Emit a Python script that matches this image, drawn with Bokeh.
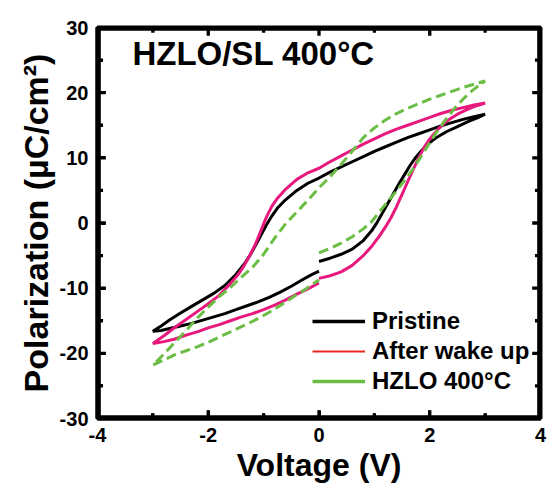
from bokeh.plotting import figure
from bokeh.models import (Range1d, FixedTicker, Legend, LegendItem, Label)
from bokeh.embed import file_html
from bokeh.resources import INLINE

# ---------------- data ----------------
x_ticks = [-4, -2, 0, 2, 4]
x_minor = [-3, -1, 1, 3]
x_tick_labels = ["-4", "-2", "0", "2", "4"]
y_ticks = [-30, -20, -10, 0, 10, 20, 30]
y_minor = [-25, -15, -5, 5, 15, 25]
y_tick_labels = ["-30", "-20", "-10", "0", "10", "20", "30"]

series_names = ["Pristine", "After wake up", "HZLO 400°C"]

# Pristine: 0 -> 3 -> -3 -> 0
pristine_v = [0.00, 0.20, 0.40, 0.60, 0.80, 0.95, 1.05, 1.15, 1.25, 1.35, 1.45, 1.55, 1.65, 1.75, 1.85, 1.95, 2.10, 2.30, 2.50, 2.70, 2.85, 3.00,
              2.80, 2.60, 2.40, 2.20, 2.00, 1.80, 1.60, 1.40, 1.20, 1.00, 0.80, 0.60, 0.40, 0.20, 0.00, -0.20, -0.40, -0.60, -0.75, -0.85, -0.95, -1.05, -1.15, -1.25, -1.35, -1.50, -1.70, -1.90, -2.10, -2.30, -2.50, -2.70, -2.85, -3.00,
              -2.85, -2.70, -2.50, -2.30, -2.10, -1.90, -1.70, -1.50, -1.30, -1.10, -0.90, -0.70, -0.50, -0.30, -0.15, 0.00]
pristine_p = [-5.9, -5.4, -4.8, -4.0, -2.7, -1.2, 0.1, 1.6, 3.1, 4.6, 6.1, 7.5, 8.9, 10.1, 11.1, 12.0, 13.0, 14.0, 14.8, 15.6, 16.1, 16.7,
              16.3, 15.9, 15.4, 14.9, 14.3, 13.7, 13.1, 12.4, 11.7, 11.0, 10.2, 9.4, 8.6, 7.8, 6.9, 6.1, 5.0, 3.6, 2.3, 1.1, -0.3, -1.9, -3.5, -5.0, -6.3, -7.9, -9.6, -10.8, -11.8, -12.8, -13.8, -14.9, -15.8, -16.6,
              -16.5, -16.2, -15.8, -15.4, -14.9, -14.4, -13.9, -13.3, -12.7, -12.1, -11.4, -10.6, -9.7, -8.7, -8.0, -7.4]

# After wake up
wake_v = [0.00, 0.20, 0.40, 0.60, 0.80, 0.95, 1.10, 1.20, 1.30, 1.40, 1.50, 1.60, 1.70, 1.80, 1.90, 2.00, 2.15, 2.30, 2.50, 2.70, 2.85, 3.00,
          2.80, 2.60, 2.40, 2.20, 2.00, 1.80, 1.60, 1.40, 1.20, 1.00, 0.80, 0.60, 0.40, 0.20, 0.00, -0.20, -0.40, -0.60, -0.75, -0.85, -0.95, -1.05, -1.15, -1.25, -1.35, -1.45, -1.60, -1.80, -2.00, -2.20, -2.40, -2.60, -2.80, -3.00,
          -2.80, -2.60, -2.40, -2.20, -2.00, -1.80, -1.60, -1.40, -1.20, -1.00, -0.80, -0.60, -0.40, -0.20, 0.00]
wake_p = [-8.5, -8.1, -7.5, -6.5, -5.0, -3.6, -1.9, -0.6, 0.8, 2.5, 4.4, 6.3, 8.2, 10.0, 11.6, 12.9, 14.4, 15.6, 16.7, 17.5, 18.0, 18.4,
          18.1, 17.7, 17.3, 16.8, 16.2, 15.6, 15.0, 14.4, 13.7, 12.9, 12.1, 11.2, 10.3, 9.4, 8.4, 7.7, 6.7, 5.2, 3.8, 2.6, 0.9, -1.2, -3.3, -5.0, -6.5, -7.8, -9.3, -11.1, -12.4, -13.6, -14.8, -16.0, -17.3, -18.5,
          -18.2, -17.8, -17.2, -16.7, -16.1, -15.6, -15.0, -14.4, -13.9, -13.3, -12.6, -11.8, -10.9, -10.1, -9.2]

# HZLO 400°C
hzlo_v = [0.00, 0.20, 0.40, 0.60, 0.80, 0.95, 1.10, 1.25, 1.40, 1.55, 1.70, 1.85, 2.00, 2.15, 2.30, 2.45, 2.60, 2.75, 2.90, 3.00,
          2.80, 2.60, 2.40, 2.20, 2.00, 1.80, 1.60, 1.40, 1.20, 1.00, 0.80, 0.60, 0.40, 0.20, 0.00, -0.20, -0.40, -0.60, -0.80, -1.00, -1.20, -1.40, -1.60, -1.80, -2.00, -2.20, -2.40, -2.60, -2.80, -3.00,
          -2.80, -2.60, -2.40, -2.20, -2.00, -1.80, -1.60, -1.40, -1.20, -1.00, -0.80, -0.60, -0.40, -0.20, 0.00]
hzlo_p = [-4.6, -3.9, -3.1, -2.1, -0.9, 0.2, 1.8, 3.4, 4.9, 6.6, 8.3, 10.3, 12.3, 14.3, 16.0, 17.6, 19.0, 20.2, 21.2, 21.8,
          21.3, 20.8, 20.2, 19.6, 19.0, 18.3, 17.6, 16.8, 15.8, 14.6, 13.1, 11.0, 9.0, 7.1, 5.4, 3.5, 1.7, -0.1, -2.3, -4.8, -6.8, -8.3, -9.9, -11.3, -12.9, -14.6, -16.5, -18.3, -20.1, -21.8,
          -21.0, -20.2, -19.6, -19.0, -18.3, -17.5, -16.7, -15.9, -15.1, -14.2, -13.2, -12.1, -11.0, -9.9, -8.7]

# ---------------- styling ----------------
FONT = "Liberation Sans"
BLACK = "#000000"
PINK = "#E8197E"
GREEN = "#6CBD45"
LEG_RED = "#E8261E"
NAN = float("nan")

x0, x1 = x_ticks[0], x_ticks[-1]
y0, y1 = y_ticks[0], y_ticks[-1]

p = figure(width=550, height=493, x_range=Range1d(x0, x1), y_range=Range1d(y0, y1),
           output_backend="svg", toolbar_location=None,
           min_border_left=97, min_border_right=10, min_border_top=27, min_border_bottom=75)
p.xgrid.visible = False
p.ygrid.visible = False
p.outline_line_color = "black"
p.outline_line_width = 4

for ax, t, m, l in ((p.xaxis[0], x_ticks, x_minor, x_tick_labels), (p.yaxis[0], y_ticks, y_minor, y_tick_labels)):
    ax.ticker = FixedTicker(ticks=t, minor_ticks=m)
    ax.axis_line_width = 4
    ax.major_tick_in = 8
    ax.major_tick_out = 0
    ax.minor_tick_in = 5
    ax.minor_tick_out = 0
    ax.major_tick_line_width = 3
    ax.minor_tick_line_width = 3
    ax.major_label_overrides = {a: b for a, b in zip(t, l)}
    ax.major_label_text_font = FONT
    ax.major_label_text_font_style = "bold"
    ax.major_label_text_color = "black"
    ax.major_label_text_font_size = "20px"
    ax.major_label_standoff = 9
    ax.axis_label_text_font = FONT
    ax.axis_label_text_font_style = "bold"
    ax.axis_label_text_color = "black"
    ax.axis_label_standoff = 2

p.xaxis.axis_label = "Voltage (V)"
p.yaxis.axis_label = "Polarization (µC/cm²)"
p.xaxis.axis_label_text_font_size = "32px"
p.yaxis.axis_label_text_font_size = "34px"

# frame band and inward ticks drawn as filled quads (no strokes)
BAND_X, BAND_Y = 0.06, 0.5          # frame thickness inside the plot (V, uC/cm2)
TW_X, TW_Y = 0.03, 0.25             # half tick width (V, uC/cm2)
MAJ_DX, MIN_DX = 0.15, 0.10         # tick length along x (V)
MAJ_DY, MIN_DY = 1.25, 0.80         # tick length along y (uC/cm2)
fill = dict(fill_color="black", line_color=None)
p.quad(left=[x0, x0, x0, x1 - BAND_X], right=[x1, x1, x0 + BAND_X, x1],
       bottom=[y0, y1 - BAND_Y, y0, y0], top=[y0 + BAND_Y, y1, y1, y1], **fill)
for vals, dy in ((x_ticks, MAJ_DY), (x_minor, MIN_DY)):
    p.quad(left=[v - TW_X for v in vals], right=[v + TW_X for v in vals],
           bottom=[y0] * len(vals), top=[y0 + dy] * len(vals), **fill)
    p.quad(left=[v - TW_X for v in vals], right=[v + TW_X for v in vals],
           bottom=[y1 - dy] * len(vals), top=[y1] * len(vals), **fill)
for vals, dx in ((y_ticks, MAJ_DX), (y_minor, MIN_DX)):
    p.quad(left=[x0] * len(vals), right=[x0 + dx] * len(vals),
           bottom=[v - TW_Y for v in vals], top=[v + TW_Y for v in vals], **fill)
    p.quad(left=[x1 - dx] * len(vals), right=[x1] * len(vals),
           bottom=[v - TW_Y for v in vals], top=[v + TW_Y for v in vals], **fill)

# curves
p.line(pristine_v, pristine_p, line_color=BLACK, line_width=3)
p.line(wake_v, wake_p, line_color=PINK, line_width=3)
p.line(hzlo_v, hzlo_p, line_color=GREEN, line_width=3, line_dash="10 5")

# legend proxies (nothing visible in the plot itself)
lg1 = p.line([NAN], [NAN], line_color=BLACK, line_width=3.5)
lg2 = p.line([NAN], [NAN], line_color=LEG_RED, line_width=2)
lg3 = p.line([NAN], [NAN], line_color=GREEN, line_width=3.5)
legend = Legend(items=[LegendItem(label=series_names[0], renderers=[lg1]),
                       LegendItem(label=series_names[1], renderers=[lg2]),
                       LegendItem(label=series_names[2], renderers=[lg3])],
                location=(215, 23), label_text_font=FONT, label_text_font_style="bold",
                label_text_font_size="24px", label_text_color="black",
                glyph_width=53, spacing=2, padding=0, margin=0, label_standoff=7,
                border_line_color=None, background_fill_alpha=0)
p.add_layout(legend)

title = Label(x=-3.37, y=26.0, text="HZLO/SL 400°C", text_font=FONT, text_font_style="bold",
              text_font_size="33px", text_color="black", text_baseline="middle")
p.add_layout(title)

open("out.html", "w").write(file_html(p, INLINE))
